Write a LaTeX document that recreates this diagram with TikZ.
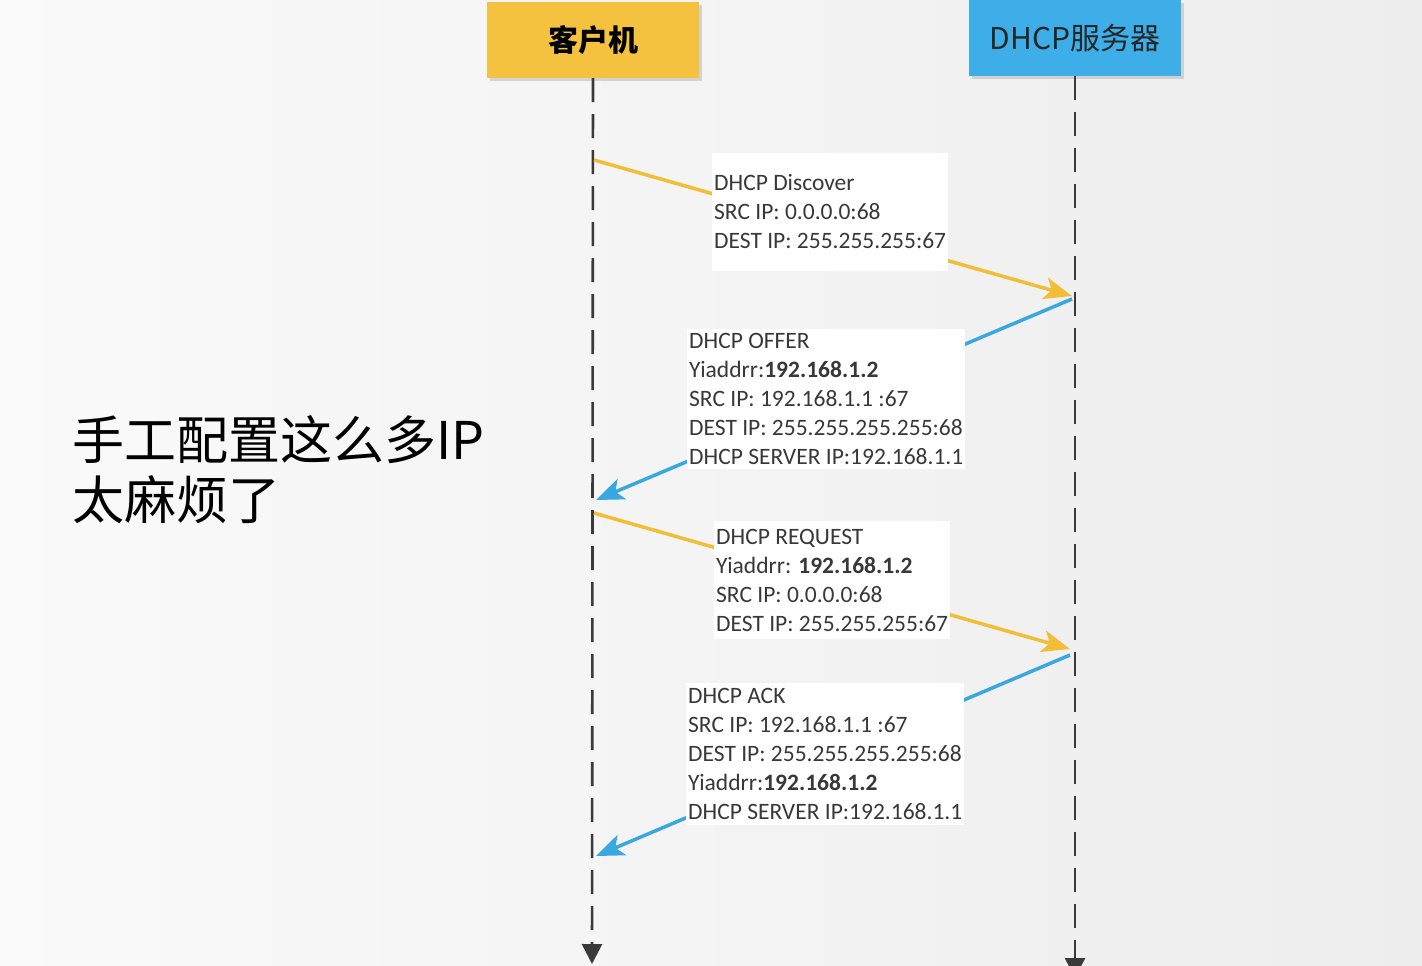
\documentclass[tikz,border=0pt]{standalone}
\usepackage{fontspec}
\setmainfont{Carlito}
\newfontfamily\cjk{Noto Sans CJK SC}
\usepackage{tikz}
\usetikzlibrary{arrows.meta, positioning, shadows}
\definecolor{DH_YELLOW}{HTML}{F4C23F}
\definecolor{DH_BLUE}{HTML}{3EAEE8}
\definecolor{DH_LINE}{HTML}{3A3A3A}
\definecolor{DH_TEXT}{HTML}{383838}
\definecolor{DH_ASK}{HTML}{F2BE37}
\definecolor{DH_REPLY}{HTML}{3AA8E0}
\tikzset{
  party/.style={
    rectangle, minimum width=212pt, minimum height=76pt,
    text centered, font=\cjk\fontsize{30}{36}\selectfont,
    drop shadow={shadow xshift=3pt, shadow yshift=-3pt, fill=black!30, opacity=0.5}},
  life/.style={line width=2.6pt, color=DH_LINE, dash pattern=on 24pt off 12pt,
    -{Triangle[length=20pt,width=20pt]}},
  msg/.style={
    rectangle, fill=white, align=left, anchor=west,
    inner xsep=2pt, inner ysep=0pt, text=DH_TEXT,
    font=\fontsize{23.5}{29}\selectfont},
  ask/.style={line width=3.5pt, color=DH_ASK, -{Stealth[length=28pt,width=22pt,inset=7pt]}},
  reply/.style={line width=3.5pt, color=DH_REPLY, -{Stealth[length=28pt,width=22pt,inset=7pt]}},
}
\begin{document}
\begin{tikzpicture}[x=1pt, y=-1pt]

  \useasboundingbox (0,0) rectangle (1422,966);
  \fill[left color=black!2, right color=black!7] (0,0) rectangle (1422,966);

  \node[party, fill=DH_YELLOW, text=black] (cli) at (593,40) {\bfseries 客户机};
  \node[party, fill=DH_BLUE, text=black!85] (srv) at (1075,38) {DHCP服务器};

  \coordinate (cend) at (592,964);
  \coordinate (send) at (1075,978);
  \draw[life] (cli.south) -- (cend);
  \draw[life] (srv.south) -- (send);

  \coordinate (c1) at (594,160);
  \coordinate (s1) at (1072,296);
  \coordinate (s2) at (1072,299);
  \coordinate (c2) at (596,500);
  \coordinate (c3) at (594,513);
  \coordinate (s3) at (1070,649);
  \coordinate (s4) at (1070,655);
  \coordinate (c4) at (596,856);

  \draw[ask]   (c1) -- (s1);
  \draw[reply] (s2) -- (c2);
  \draw[ask]   (c3) -- (s3);
  \draw[reply] (s4) -- (c4);

  \node[msg, minimum height=118pt] (discover) at (712,212)
    {DHCP Discover\\SRC IP: 0.0.0.0:68\\DEST IP: 255.255.255:67};

  \node[msg, minimum height=140pt] (offer) at (687,399)
    {DHCP OFFER\\Yiaddrr:\textbf{192.168.1.2}\\SRC IP: 192.168.1.1 :67\\DEST IP: 255.255.255.255:68\\DHCP SERVER IP:192.168.1.1};

  \node[msg, minimum height=118pt] (request) at (714,580)
    {DHCP REQUEST\\Yiaddrr: \textbf{192.168.1.2}\\SRC IP: 0.0.0.0:68\\DEST IP: 255.255.255:67};

  \node[msg, minimum height=142pt] (ack) at (686,754)
    {DHCP ACK\\SRC IP: 192.168.1.1 :67\\DEST IP: 255.255.255.255:68\\Yiaddrr:\textbf{192.168.1.2}\\DHCP SERVER IP:192.168.1.1};

  \node[anchor=west, inner sep=0pt, align=left, font=\cjk\fontsize{52}{60}\selectfont] (note) at (72,470)
    {手工配置这么多IP\\太麻烦了};

\end{tikzpicture}
\end{document}
